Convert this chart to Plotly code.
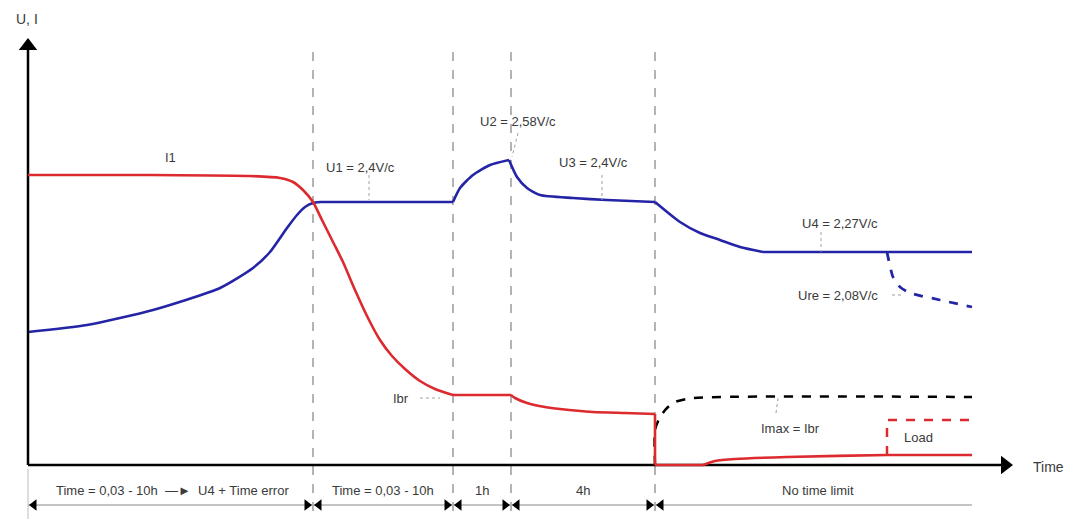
import plotly.graph_objects as go

# ---- data (schematic units: t = time, v = level; origin at axis corner) ----
phase_bounds = [0, 285, 425, 483, 627, 944]
phase_labels = ["Time = 0,03 - 10h  \u2014\u25ba  U4 + Time error", "Time = 0,03 - 10h", "1h", "4h", "No time limit"]

i_t = [0, 122, 222, 252, 265, 275, 285, 294, 305, 315, 327, 340, 352, 364, 377, 392, 407, 425,
       483, 487, 499, 517, 532, 565, 597, 627, 627, 675, 687, 707, 759, 859, 944]
i_v = [290, 290, 289, 287, 283, 275, 263, 245, 223, 203, 175, 147, 125, 109, 96, 84, 76, 70,
       70, 67, 62, 58, 56, 53, 52, 51, 0, 0, 4, 6, 8, 10, 10]
i_corners = [0, 17, 18, 25, 26, 27, 32]

u_t = [0, 59, 125, 192, 225, 242, 259, 269, 277, 285, 292, 425, 432, 445, 462, 481,
       489, 499, 512, 545, 579, 627, 652, 672, 692, 712, 735, 944]
u_v = [133, 140, 155, 177, 197, 213, 237, 250, 258, 262, 263, 263, 277, 290, 300, 305,
       288, 277, 270, 267, 265, 263, 243, 232, 225, 218, 213, 213]
u_corners = [0, 10, 11, 15, 21, 26, 27]

ure_t = [859, 865, 872, 882, 912, 944]
ure_v = [213, 188, 178, 172, 165, 158]

imax_t = [627, 627, 632, 639, 647, 665, 944]
imax_v = [0, 35, 48, 57, 63, 67, 68]

load_t = [859, 859, 944]
load_v = [10, 45, 45]

RED = "#dc2a2e"
BLUE = "#2424a6"
GREY = "#9a9a9a"
TXT = "#3a3a3a"
FONT = "Liberation Sans"
FS = 13

fig = go.Figure()

def add_piecewise(ts, vs, corners, color, width):
    for a, b in zip(corners[:-1], corners[1:]):
        fig.add_trace(go.Scatter(x=ts[a:b + 1], y=vs[a:b + 1], mode="lines",
                                 line=dict(color=color, width=width, shape="spline", smoothing=0.6)))

# phase boundary dashed verticals
for b in phase_bounds[1:5]:
    fig.add_trace(go.Scatter(x=[b, b], y=[413, -60], mode="lines",
                             line=dict(color=GREY, width=1.5, dash="dash"), hoverinfo="skip"))
# extension line at origin
fig.add_trace(go.Scatter(x=[0, 0], y=[-4, -60], mode="lines",
                         line=dict(color="#c8c8c8", width=1.2), hoverinfo="skip"))

# curves
fig.add_trace(go.Scatter(x=imax_t, y=imax_v, mode="lines",
                         line=dict(color="black", width=2.5, dash="dash", shape="spline", smoothing=0.6)))
fig.add_trace(go.Scatter(x=load_t, y=load_v, mode="lines",
                         line=dict(color=RED, width=2.5, dash="dash")))
fig.add_trace(go.Scatter(x=ure_t, y=ure_v, mode="lines",
                         line=dict(color=BLUE, width=2.8, dash="dash", shape="spline", smoothing=0.6)))
add_piecewise(u_t, u_v, u_corners, BLUE, 2.6)

# axes
fig.add_trace(go.Scatter(x=[0, 975], y=[0, 0], mode="lines", line=dict(color="black", width=2.5)))
fig.add_trace(go.Scatter(x=[0, 0], y=[0, 415], mode="lines", line=dict(color="black", width=2.5)))
add_piecewise(i_t, i_v, i_corners, RED, 2.6)
fig.add_trace(go.Scatter(x=[977], y=[0], mode="markers",
                         marker=dict(symbol="triangle-right", size=16, color="black")))
fig.add_trace(go.Scatter(x=[0], y=[419], mode="markers",
                         marker=dict(symbol="triangle-up", size=16, color="black")))

# dimension line
dim_v = -40
fig.add_trace(go.Scatter(x=[phase_bounds[0], phase_bounds[-1]], y=[dim_v, dim_v], mode="lines",
                         line=dict(color="#b0b0b0", width=1.5)))
left_heads = phase_bounds[0:5]
right_heads = phase_bounds[1:5]
fig.add_trace(go.Scatter(x=[b + 6 for b in left_heads], y=[dim_v] * len(left_heads), mode="markers",
                         marker=dict(symbol="triangle-left", size=10, color="black")))
fig.add_trace(go.Scatter(x=[b - 6 for b in right_heads], y=[dim_v] * len(right_heads), mode="markers",
                         marker=dict(symbol="triangle-right", size=10, color="black")))

# leader lines
leaders = [
    ([341, 341], [290, 265]),   # U1
    ([490, 484], [332, 308]),   # U2
    ([574, 574], [290, 265]),   # U3
    ([793, 793], [233, 213]),   # U4
    ([864, 876], [170, 170]),   # Ure
    ([392, 412], [67, 67]),     # Ibr
    ([748, 750], [52, 67]),     # Imax
]
for lx, ly in leaders:
    fig.add_trace(go.Scatter(x=lx, y=ly, mode="lines",
                             line=dict(color="#a0a0a0", width=1, dash="dot")))

anns = []
def txt(x, y, s, size=FS, xanchor="center"):
    anns.append(dict(x=x, y=y, text=s, showarrow=False, xanchor=xanchor, yanchor="middle",
                     font=dict(family=FONT, size=size, color=TXT)))

# phase labels
for k, lab in enumerate(phase_labels):
    cx = (phase_bounds[k] + phase_bounds[k + 1]) / 2
    if k == 0:
        cx = 144
    if k == 4:
        cx = 790
    txt(cx, -25, lab)

txt(-1, 446, "U, I", size=14)
txt(1003, -2, "Time", size=14, xanchor="left")
txt(142, 308, "I1")
txt(332, 298, "U1 = 2,4V/c")
txt(490, 344, "U2 = 2,58V/c")
txt(565, 303, "U3 = 2,4V/c")
txt(812, 242, "U4 = 2,27V/c")
txt(810, 170, "Ure = 2,08V/c")
txt(373, 67, "Ibr")
txt(762, 37, "Imax = Ibr")
txt(890, 28, "Load")

fig.update_layout(
    width=1084, height=519,
    margin=dict(l=0, r=0, t=0, b=0),
    paper_bgcolor="white", plot_bgcolor="white",
    showlegend=False,
    xaxis=dict(range=[-20, 1064], visible=False, fixedrange=True),
    yaxis=dict(range=[-62, 457], visible=False, fixedrange=True),
    annotations=anns,
)

fig.write_html("out.html")
